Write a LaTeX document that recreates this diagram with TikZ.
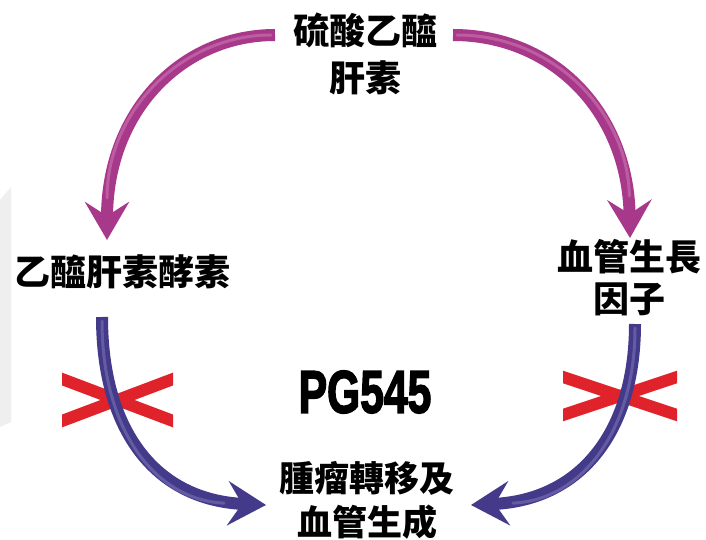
\documentclass[tikz,border=0pt]{standalone}
\usepackage{fontspec}
\newfontfamily\cjk{Noto Sans CJK TC}
\newfontfamily\pgfont[FakeBold=3]{Liberation Sans}
\usetikzlibrary{arrows.meta}
\definecolor{mag}{HTML}{A8388A}
\definecolor{maghi}{HTML}{D58ABE}
\definecolor{blu}{HTML}{443A8A}
\definecolor{bluhi}{HTML}{8C86C0}
\definecolor{xred}{HTML}{E0232A}
\definecolor{strip}{HTML}{EFEFEF}
\begin{document}
\begin{tikzpicture}[x=1pt,y=-1pt,
  lbl/.style={font=\cjk\bfseries\fontsize{36}{47}\selectfont, align=center, inner sep=0pt, text=black},
  tube/.style={line width=12pt, -{Stealth[length=38pt,width=44pt,inset=14pt]}},
  shine/.style={line width=3pt, line cap=round, opacity=0.45, shorten >=42pt, shorten <=4pt},
  cross/.style={xred, line width=12pt}]
\useasboundingbox (0,0) rectangle (706,540);
\clip (0,0) rectangle (706,540);
\fill[white] (0,0) rectangle (706,540);
\fill[strip] (0,200) -- (11,187) -- (11,422) -- (0,427) -- cycle;

% texts
\node[lbl] (hs) at (365,53.5) {硫酸乙醯\\肝素};
\node[lbl] (hep) at (122,272) {乙醯肝素酵素};
\node[lbl, font=\cjk\bfseries\fontsize{36}{42}\selectfont] (vegf) at (629,278) {血管生長\\因子};
\node[inner sep=0pt, font=\pgfont\bfseries\fontsize{60}{60}\selectfont] (pg) at (365,392) {\scalebox{0.71}[1]{PG545}};
\node[lbl, font=\cjk\bfseries\fontsize{35}{44}\selectfont] (meta) at (367,500) {腫瘤轉移及\\血管生成};

% arrow end points
\coordinate (m1s) at (275,35);
\coordinate (m1e) at (107,240);
\coordinate (m2s) at (453,35);
\coordinate (m2e) at (630,238);
\coordinate (b1s) at (102,317);
\coordinate (b1e) at (266,505);
\coordinate (b2s) at (635,324);
\coordinate (b2e) at (471,505);

% magenta arrows
\draw[tube, mag] (m1s) .. controls (183,35) and (107,110) .. (m1e);
\draw[shine, maghi] (m1s) .. controls (183,35) and (107,110) .. (m1e);
\draw[tube, mag] (m2s) .. controls (553,35) and (628,112) .. (m2e);
\draw[shine, maghi] (m2s) .. controls (553,35) and (628,112) .. (m2e);

% red crosses
\begin{scope}
\clip (62,300) rectangle (173,500);
\draw[cross] (50,374.5) -- (185,425.5);
\draw[cross] (50,425.5) -- (185,374.5);
\end{scope}
\begin{scope}
\clip (563,300) rectangle (677,500);
\draw[cross] (551,373) -- (689,419);
\draw[cross] (551,419) -- (689,373);
\end{scope}

% blue arrows
\draw[tube, blu] (b1s) .. controls (102,430) and (155,500) .. (b1e);
\draw[shine, bluhi] (b1s) .. controls (102,430) and (155,500) .. (b1e);
\draw[tube, blu] (b2s) .. controls (635,430) and (582,500) .. (b2e);
\draw[shine, bluhi] (b2s) .. controls (635,430) and (582,500) .. (b2e);
\end{tikzpicture}
\end{document}
